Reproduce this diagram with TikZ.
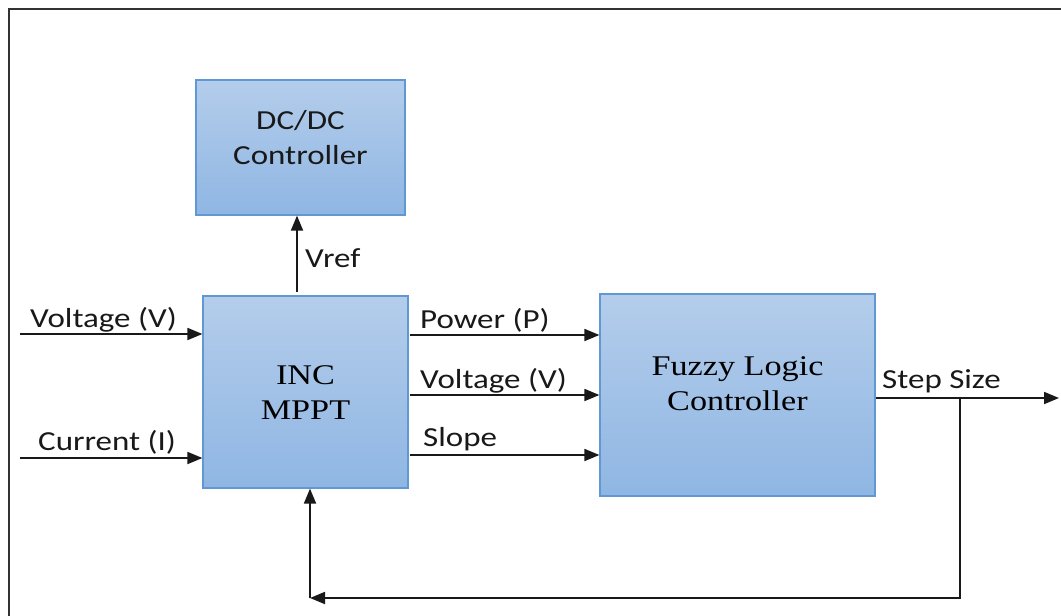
\documentclass[tikz,border=0pt]{standalone}
\usepackage{fontspec}
\setmainfont[FakeStretch=1.2]{Liberation Serif}
\newfontfamily\calib[FakeStretch=1.2]{Carlito}
\usetikzlibrary{arrows.meta,calc}
\begin{document}
\begin{tikzpicture}[x=1pt,y=-1pt,
  box/.style={draw=boxedge, line width=1.2pt, top color=boxtop, bottom color=boxbot, inner sep=0pt},
  serift/.style={font=\fontsize{28.5}{35}\selectfont, align=center, text=black},
  sanst/.style={font=\calib\fontsize{27.5}{35}\selectfont, align=center, text=black!90},
  lbl/.style={font=\calib\fontsize{27.5}{35}\selectfont, anchor=base west, inner sep=0pt, text=black!90},
  conn/.style={line width=1.8pt, draw=black!90, -{Triangle[length=15pt,width=12pt]}},
  plain/.style={line width=1.8pt, draw=black!90}]
\definecolor{boxtop}{RGB}{180,205,235}
\definecolor{boxbot}{RGB}{143,182,227}
\definecolor{boxedge}{RGB}{95,152,210}
\useasboundingbox (0,0) rectangle (1061,616);
\fill[white] (0,0) rectangle (1061,616);
% frame
\draw[line width=2pt, black!80] (9,616) -- (9,9) -- (1061,9);
% boxes
\node[box, minimum width=209, minimum height=135] (dc) at (300.5,147.5) {};
\node[sanst] (dctext) at (300.5,137.5) {DC/DC\\Controller};
\node[box, minimum width=205, minimum height=192] (inc) at (305.5,392) {};
\node[serift] (inctext) at (305.5,393) {INC\\MPPT};
\node[box, minimum width=275, minimum height=202] (flc) at (737.5,395) {};
\node[serift] (flctext) at (737.5,384) {Fuzzy Logic\\Controller};
% free ends
\coordinate (vin) at (20,334);
\coordinate (iin) at (20,458);
\coordinate (vrefs) at (297,292);
\coordinate (pstart) at (410,335);
\coordinate (vstart) at (410,395);
\coordinate (sstart) at (410,455);
\coordinate (outend) at (1059,398);
\coordinate (tap) at (960,398);
\coordinate (fbc) at (960,598);
\coordinate (fbl) at (310,598);
% connectors
\draw[conn] (vin) -- (vin -| inc.west);
\draw[conn] (iin) -- (iin -| inc.west);
\draw[conn] (vrefs) -- (vrefs |- dc.south);
\draw[conn] (pstart) -- (pstart -| flc.west);
\draw[conn] (vstart) -- (vstart -| flc.west);
\draw[conn] (sstart) -- (sstart -| flc.west);
\draw[conn] (tap -| flc.east) -- (outend);
\draw[conn] (tap) -- (fbc) -- (fbl);
\draw[conn] (fbl) -- (fbl |- inc.south);
% labels
\node[lbl] (lvin) at (30,327) {Voltage (V)};
\node[lbl] (liin) at (38,450) {Current (I)};
\node[lbl] (lvref) at (305,267) {Vref};
\node[lbl] (lp) at (420,328) {Power (P)};
\node[lbl] (lv) at (420,388) {Voltage (V)};
\node[lbl] (ls) at (423,446) {Slope};
\node[lbl] (lstep) at (882,388) {Step Size};
\end{tikzpicture}
\end{document}
